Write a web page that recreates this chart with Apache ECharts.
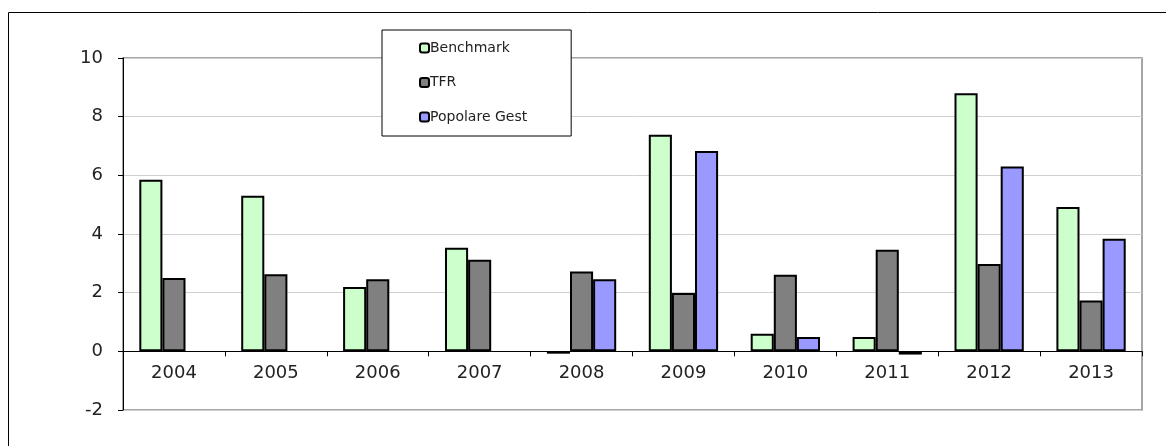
<!DOCTYPE html>
<html><head><meta charset="utf-8">
<script src="https://cdn.jsdelivr.net/npm/echarts@6/dist/echarts.min.js"></script>
<style>html,body{margin:0;padding:0;background:#fff}#c{width:1166px;height:446px}</style>
</head><body><div id="c"></div>
<script>
const categories = ['2004','2005','2006','2007','2008','2009','2010','2011','2012','2013'];
const benchmark = [5.85, 5.30, 2.19, 3.53, -0.08, 7.38, 0.60, 0.49, 8.80, 4.92];
const tfr = [2.50, 2.63, 2.46, 3.12, 2.72, 1.99, 2.61, 3.46, 2.98, 1.73];
const popolare = [null, null, null, null, 2.46, 6.83, 0.49, -0.11, 6.30, 3.84];
const yTicks = {min: -2, max: 10, interval: 2};

const chart = echarts.init(document.getElementById('c'));
const font = 'DejaVu Sans';
const mk = (name, data, color) => ({
  name, type: 'bar', data, barGap: '0%', barCategoryGap: '32%',
  itemStyle: {color, borderColor: '#000', borderWidth: 2}
});
chart.setOption({
  animation: false,
  graphic: [{type: 'rect', shape: {x: 8.5, y: 12.5, width: 1200, height: 500},
    style: {fill: 'none', stroke: '#000', lineWidth: 1}, silent: true}],
  grid: {left: 123, right: 24, top: 58, bottom: 36, show: true,
    borderColor: '#888', borderWidth: 1.5, backgroundColor: 'transparent'},
  legend: {
    orient: 'vertical', left: 382, top: 30,
    padding: [11, 44, 12, 37], itemGap: 20.5,
    itemWidth: 9, itemHeight: 9,
    backgroundColor: '#fff', borderColor: '#000', borderWidth: 1,
    textStyle: {fontFamily: font, fontSize: 14, color: '#222', padding: [0, 0, 0, -4], lineHeight: 14},
    data: ['Benchmark', 'TFR', 'Popolare Gest']
  },
  xAxis: {
    type: 'category', data: categories,
    axisLine: {onZero: true, lineStyle: {color: '#000', width: 1}},
    axisTick: {show: true, length: 5, lineStyle: {color: '#000'}},
    axisLabel: {fontFamily: font, fontSize: 18, color: '#222', margin: -46}
  },
  yAxis: {
    type: 'value', min: yTicks.min, max: yTicks.max, interval: yTicks.interval,
    axisLine: {show: true, lineStyle: {color: '#000', width: 1}},
    axisTick: {show: true, length: 5, lineStyle: {color: '#000'}},
    axisLabel: {fontFamily: font, fontSize: 18, color: '#222', margin: 20},
    splitLine: {lineStyle: {color: '#d0d0d0', width: 1}}
  },
  series: [
    mk('Benchmark', benchmark, '#CCFFCC'),
    mk('TFR', tfr, '#808080'),
    mk('Popolare Gest', popolare, '#9999FF')
  ]
});
</script></body></html>
